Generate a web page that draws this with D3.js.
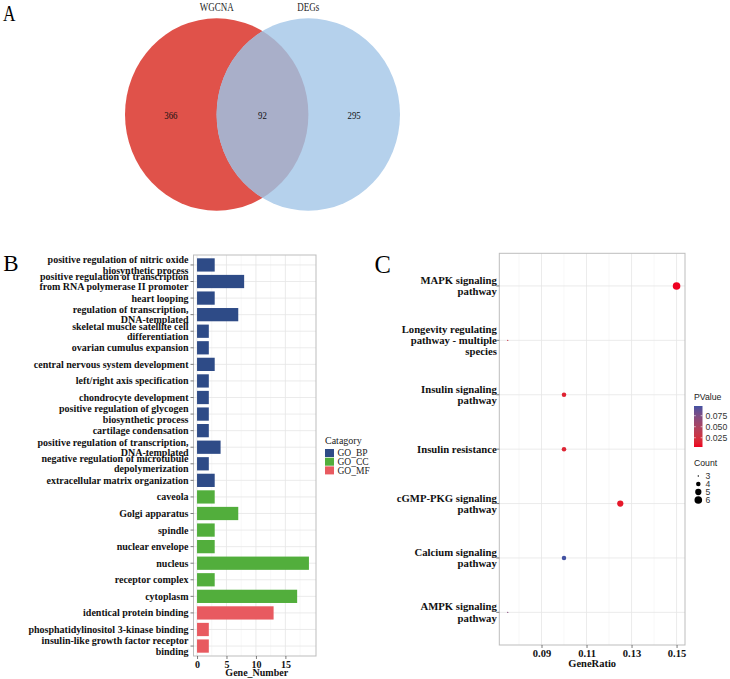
<!DOCTYPE html>
<html><head><meta charset="utf-8">
<script src="https://cdn.jsdelivr.net/npm/d3@7"></script>
<style>body{margin:0;background:#fff}svg{display:block}</style>
</head><body>
<script>
// ---------- DATA ----------
const vennSets = ["WGCNA", "DEGs"];
const vennCounts = [366, 92, 295]; // only WGCNA, both, only DEGs

const goTerms = [
  "positive regulation of nitric oxide biosynthetic process",
  "positive regulation of transcription from RNA polymerase II promoter",
  "heart looping",
  "regulation of transcription, DNA-templated",
  "skeletal muscle satellite cell differentiation",
  "ovarian cumulus expansion",
  "central nervous system development",
  "left/right axis specification",
  "chondrocyte development",
  "positive regulation of glycogen biosynthetic process",
  "cartilage condensation",
  "positive regulation of transcription, DNA-templated",
  "negative regulation of microtubule depolymerization",
  "extracellular matrix organization",
  "caveola",
  "Golgi apparatus",
  "spindle",
  "nuclear envelope",
  "nucleus",
  "receptor complex",
  "cytoplasm",
  "identical protein binding",
  "phosphatidylinositol 3-kinase binding",
  "insulin-like growth factor receptor binding"
];
const goCounts = [3, 8, 3, 7, 2, 2, 3, 2, 2, 2, 2, 4, 2, 3, 3, 7, 3, 3, 19, 3, 17, 13, 2, 2];
const goCategory = ["GO_BP","GO_BP","GO_BP","GO_BP","GO_BP","GO_BP","GO_BP","GO_BP","GO_BP","GO_BP","GO_BP","GO_BP","GO_BP","GO_BP",
  "GO_CC","GO_CC","GO_CC","GO_CC","GO_CC","GO_CC","GO_CC","GO_MF","GO_MF","GO_MF"];
const goCatNames = ["GO_BP", "GO_CC", "GO_MF"];
const goTicks = [0, 5, 10, 15];

const keggPathways = [
  "MAPK signaling pathway",
  "Longevity regulating pathway - multiple species",
  "Insulin signaling pathway",
  "Insulin resistance",
  "cGMP-PKG signaling pathway",
  "Calcium signaling pathway",
  "AMPK signaling pathway"
];
const keggRatio = [0.150, 0.075, 0.100, 0.100, 0.125, 0.100, 0.075];
const keggCount = [6, 3, 4, 4, 5, 4, 3];
const keggP = [0.004, 0.030, 0.015, 0.016, 0.010, 0.097, 0.070];
const keggTicks = [0.09, 0.11, 0.13, 0.15];
const pLegendTicks = [0.025, 0.050, 0.075];
const countLegend = [3, 4, 5, 6];

// ---------- SETUP ----------
const W = 730, H = 679;
const svg = d3.select("body").append("svg").attr("width", W).attr("height", H);
const SERIF = "'Liberation Serif','Times New Roman',serif";
const SANS = "'Liberation Sans',Arial,sans-serif";

function wrap(s, width) {
  const words = s.split(" "); const lines = []; let cur = "";
  words.forEach(w => {
    if (!cur) cur = w;
    else if ((cur + " " + w).length <= width) cur += " " + w;
    else { lines.push(cur); cur = w; }
  });
  if (cur) lines.push(cur);
  return lines;
}

// ---------- PANEL A : Venn ----------
const gA = svg.append("g");
gA.append("text").attr("transform", "translate(3,20.7) scale(0.75,1)")
  .attr("font-family", SERIF).attr("font-size", 23).text("A");
const vx = d3.scaleLinear().domain([0, 1]).range([216.7, 308.3]);
const vcy = 114.5, vrx = 91.7, vry = 96.2;
const defs = svg.append("defs");
defs.append("clipPath").attr("id", "clipRed").append("ellipse")
  .attr("cx", vx(0)).attr("cy", vcy).attr("rx", vrx).attr("ry", vry);
gA.append("ellipse").attr("cx", vx(0)).attr("cy", vcy).attr("rx", vrx).attr("ry", vry).attr("fill", "#E0524A");
gA.append("ellipse").attr("cx", vx(1)).attr("cy", vcy).attr("rx", vrx).attr("ry", vry).attr("fill", "#B5D1EC");
gA.append("ellipse").attr("cx", vx(1)).attr("cy", vcy).attr("rx", vrx).attr("ry", vry).attr("fill", "#A9AFC9")
  .attr("clip-path", "url(#clipRed)");
vennSets.forEach((s, i) => {
  gA.append("text").attr("transform", `translate(${vx(i)},10.7) scale(0.78,1)`)
    .attr("text-anchor", "middle").attr("font-family", SERIF).attr("font-size", 11.5).attr("fill", "#222").text(s);
});
const numPos = [-0.5, 0.5, 1.5];
vennCounts.forEach((c, i) => {
  gA.append("text").attr("transform", `translate(${vx(numPos[i])},119) scale(0.8,1)`)
    .attr("text-anchor", "middle").attr("font-family", SERIF).attr("font-size", 11).attr("fill", "#111").text(c);
});

// ---------- PANEL B : GO bar ----------
const gB = svg.append("g");
gB.append("text").attr("x", 3.3).attr("y", 271).attr("font-family", SERIF).attr("font-size", 23).text("B");
const bL = 193.5, bR = 316, bT = 255, bB = 656;
const bX = d3.scaleLinear().domain([-0.6, 20.2]).range([bL, bR]);
const bY = d3.scalePoint().domain(goTerms).range([bT, bB]).padding(0.6);
const catColor = d3.scaleOrdinal().domain(goCatNames).range(["#2E4B87", "#52AE3C", "#E85A60"]);
gB.append("rect").attr("x", bL).attr("y", bT).attr("width", bR - bL).attr("height", bB - bT).attr("fill", "#fff");
[2.5, 7.5, 12.5, 17.5].forEach(v => gB.append("line").attr("x1", bX(v)).attr("x2", bX(v)).attr("y1", bT).attr("y2", bB).attr("stroke", "#F3F3F3").attr("stroke-width", 0.6));
goTicks.forEach(v => gB.append("line").attr("x1", bX(v)).attr("x2", bX(v)).attr("y1", bT).attr("y2", bB).attr("stroke", "#E6E6E6").attr("stroke-width", 0.8));
goTerms.forEach(t => gB.append("line").attr("x1", bL).attr("x2", bR).attr("y1", bY(t)).attr("y2", bY(t)).attr("stroke", "#E6E6E6").attr("stroke-width", 0.8));
const bh = bY.step() * 0.8;
gB.selectAll("rect.bar").data(goTerms).join("rect").attr("class", "bar")
  .attr("x", bX(0)).attr("y", d => bY(d) - bh / 2)
  .attr("width", (d, i) => bX(goCounts[i]) - bX(0)).attr("height", bh)
  .attr("fill", (d, i) => catColor(goCategory[i]));
gB.append("rect").attr("x", bL).attr("y", bT).attr("width", bR - bL).attr("height", bB - bT)
  .attr("fill", "none").attr("stroke", "#BDBDBD").attr("stroke-width", 1);
// y labels
goTerms.forEach(t => {
  const lines = wrap(t, 40); const lh = 10.4;
  gB.append("line").attr("x1", bL - 3).attr("x2", bL).attr("y1", bY(t)).attr("y2", bY(t)).attr("stroke", "#444").attr("stroke-width", 0.7);
  const tx = gB.append("text").attr("text-anchor", "end").attr("font-family", SERIF).attr("font-weight", "bold")
    .attr("font-size", 10).attr("fill", "#111");
  lines.forEach((l, k) => tx.append("tspan").attr("x", 188.5).attr("y", bY(t) - (lines.length - 1) * lh / 2 + k * lh).attr("dy", "0.35em").text(l));
});
// x axis
const bAxis = gB.append("g").attr("transform", `translate(0,${bB})`)
  .call(d3.axisBottom(bX).tickValues(goTicks).tickSize(3).tickPadding(1.5));
bAxis.select(".domain").remove();
bAxis.selectAll("line").attr("stroke", "#444").attr("stroke-width", 0.7);
bAxis.selectAll("text").attr("font-family", SERIF).attr("font-weight", "bold").attr("font-size", 10).attr("fill", "#111");
gB.append("text").attr("x", (bL + bR) / 2 + 2).attr("y", 675.5).attr("text-anchor", "middle")
  .attr("font-family", SERIF).attr("font-weight", "bold").attr("font-size", 10).attr("fill", "#111").text("Gene_Number");
// legend
gB.append("text").attr("x", 325).attr("y", 444).attr("font-family", SERIF).attr("font-size", 10).attr("fill", "#222").text("Catagory");
const legY = d3.scalePoint().domain(goCatNames).range([453, 470.4]);
goCatNames.forEach(c => {
  gB.append("rect").attr("x", 325).attr("y", legY(c) - 4).attr("width", 9).attr("height", 8).attr("fill", catColor(c));
  gB.append("text").attr("x", 337.5).attr("y", legY(c)).attr("dy", "0.35em").attr("font-family", SERIF)
    .attr("font-size", 9.5).attr("fill", "#222").text(c);
});

// ---------- PANEL C : KEGG dot ----------
const gC = svg.append("g");
gC.append("text").attr("x", 374.5).attr("y", 272.7).attr("font-family", SERIF).attr("font-size", 24.5).text("C");
const cL = 499.3, cR = 685, cT = 253.3, cB = 645;
const cX = d3.scaleLinear().domain([0.07125, 0.15375]).range([cL, cR]);
const cY = d3.scalePoint().domain(keggPathways).range([cT, cB]).padding(0.6);
const pExt = d3.extent(keggP);
const pColor = d3.scaleLinear().domain(pExt).range(["#EE0020", "#4352A2"]).interpolate(d3.interpolateLab);
const rScale = d3.scaleRadial().domain([3, 6]).range([0.7, 3.8]);
[0.08, 0.10, 0.12, 0.14].forEach(v => gC.append("line").attr("x1", cX(v)).attr("x2", cX(v)).attr("y1", cT).attr("y2", cB).attr("stroke", "#F3F3F3").attr("stroke-width", 0.6));
keggTicks.forEach(v => gC.append("line").attr("x1", cX(v)).attr("x2", cX(v)).attr("y1", cT).attr("y2", cB).attr("stroke", "#E6E6E6").attr("stroke-width", 0.8));
keggPathways.forEach(t => gC.append("line").attr("x1", cL).attr("x2", cR).attr("y1", cY(t)).attr("y2", cY(t)).attr("stroke", "#E6E6E6").attr("stroke-width", 0.8));
gC.selectAll("circle.pt").data(keggPathways).join("circle").attr("class", "pt")
  .attr("cx", (d, i) => cX(keggRatio[i])).attr("cy", d => cY(d))
  .attr("r", (d, i) => rScale(keggCount[i])).attr("fill", (d, i) => pColor(keggP[i]));
gC.append("rect").attr("x", cL).attr("y", cT).attr("width", cR - cL).attr("height", cB - cT)
  .attr("fill", "none").attr("stroke", "#BDBDBD").attr("stroke-width", 1);
keggPathways.forEach(t => {
  const lines = wrap(t, 20); const lh = 11.3;
  gC.append("line").attr("x1", cL - 3).attr("x2", cL).attr("y1", cY(t)).attr("y2", cY(t)).attr("stroke", "#444").attr("stroke-width", 0.7);
  const tx = gC.append("text").attr("text-anchor", "end").attr("font-family", SERIF).attr("font-weight", "bold")
    .attr("font-size", 10.7).attr("fill", "#111");
  lines.forEach((l, k) => tx.append("tspan").attr("x", 496.8).attr("y", cY(t) - (lines.length - 1) * lh / 2 + k * lh).attr("dy", "0.35em").text(l));
});
const cAxis = gC.append("g").attr("transform", `translate(0,${cB})`)
  .call(d3.axisBottom(cX).tickValues(keggTicks).tickFormat(d3.format(".2f")).tickSize(3).tickPadding(1.5));
cAxis.select(".domain").remove();
cAxis.selectAll("line").attr("stroke", "#444").attr("stroke-width", 0.7);
cAxis.selectAll("text").attr("font-family", SERIF).attr("font-weight", "bold").attr("font-size", 10.5).attr("fill", "#111");
gC.append("text").attr("x", (cL + cR) / 2).attr("y", 666.5).attr("text-anchor", "middle")
  .attr("font-family", SERIF).attr("font-weight", "bold").attr("font-size", 10.5).attr("fill", "#111").text("GeneRatio");
// PValue legend
gC.append("text").attr("x", 694).attr("y", 400).attr("font-family", SANS).attr("font-size", 8.7).attr("fill", "#222").text("PValue");
const barY = d3.scaleLinear().domain(pExt).range([447, 406]);
const grad = defs.append("linearGradient").attr("id", "pgrad").attr("x1", 0).attr("y1", 1).attr("x2", 0).attr("y2", 0);
d3.range(0, 1.0001, 0.1).forEach(t => grad.append("stop").attr("offset", t).attr("stop-color", pColor(pExt[0] + t * (pExt[1] - pExt[0]))));
gC.append("rect").attr("x", 694).attr("y", barY(pExt[1])).attr("width", 8.5).attr("height", barY(pExt[0]) - barY(pExt[1])).attr("fill", "url(#pgrad)");
pLegendTicks.forEach(v => {
  gC.append("line").attr("x1", 694).attr("x2", 695.8).attr("y1", barY(v)).attr("y2", barY(v)).attr("stroke", "#fff").attr("stroke-width", 0.6);
  gC.append("line").attr("x1", 700.7).attr("x2", 702.5).attr("y1", barY(v)).attr("y2", barY(v)).attr("stroke", "#fff").attr("stroke-width", 0.6);
  gC.append("text").attr("x", 705.5).attr("y", barY(v)).attr("dy", "0.35em").attr("font-family", SANS).attr("font-size", 8.7).attr("fill", "#333").text(d3.format(".3f")(v));
});
// Count legend
gC.append("text").attr("x", 694).attr("y", 466).attr("font-family", SANS).attr("font-size", 8.7).attr("fill", "#222").text("Count");
const cntY = d3.scalePoint().domain(countLegend).range([476, 500]);
countLegend.forEach(c => {
  gC.append("circle").attr("cx", 698.3).attr("cy", cntY(c)).attr("r", rScale(c)).attr("fill", "#000");
  gC.append("text").attr("x", 705.5).attr("y", cntY(c)).attr("dy", "0.35em").attr("font-family", SANS).attr("font-size", 8.7).attr("fill", "#333").text(c);
});
</script>
</body></html>
